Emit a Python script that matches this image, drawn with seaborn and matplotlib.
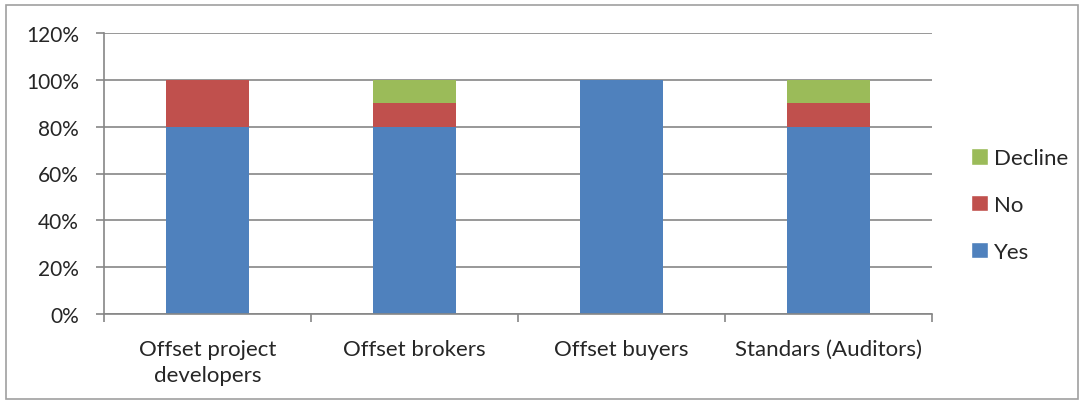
import matplotlib
matplotlib.use("Agg")
import matplotlib.pyplot as plt
import seaborn as sns
import pandas as pd
import numpy as np
from matplotlib.patches import Rectangle, Patch
from matplotlib.ticker import FuncFormatter, FixedLocator

categories = ["Offset project\ndevelopers", "Offset brokers", "Offset buyers", "Standars (Auditors)"]
yes = [80, 80, 100, 80]
no = [20, 10, 0, 10]
decline = [0, 10, 0, 10]
series_names = ["Yes", "No", "Decline"]
colors = {"Yes": "#4F81BD", "No": "#C0504D", "Decline": "#9BBB59"}
yticks = [0, 20, 40, 60, 80, 100, 120]

sns.set_style("white")
plt.rcParams["font.family"] = ["Lato", "DejaVu Sans"]

df = pd.DataFrame({"cat": categories, "Yes": yes, "No": no, "Decline": decline})
df["cum_no"] = df["Yes"] + df["No"]
df["cum_decline"] = df["cum_no"] + df["Decline"]

fig = plt.figure(figsize=(10.84, 4.06), dpi=100)
ax = fig.add_axes([104/1084, 1-315/406, (932-104)/1084, (315-34)/406])
ax.set_axisbelow(True)

for col, name in [("cum_decline", "Decline"), ("cum_no", "No"), ("Yes", "Yes")]:
    sns.barplot(data=df, x="cat", y=col, color=colors[name], width=0.4,
                saturation=1, ax=ax, linewidth=0, errorbar=None)

ax.set_ylim(0, 120)
ax.set_xlim(-0.5, 3.5)
ax.yaxis.set_major_locator(FixedLocator(yticks))
ax.yaxis.set_major_formatter(FuncFormatter(lambda v, p: f"{int(v)}%"))
ax.grid(axis="y", color="#868686", linewidth=1.2)
ax.grid(axis="x", visible=False)
for s in ["top", "right"]:
    ax.spines[s].set_visible(False)
for s in ["left", "bottom"]:
    ax.spines[s].set_color("#868686")
    ax.spines[s].set_linewidth(1.2)
ax.set_xlabel("")
ax.set_ylabel("")
ax.tick_params(axis="y", length=6, color="#868686", width=1.2, labelsize=15, pad=12, left=True)
ax.tick_params(axis="x", length=0, labelsize=16, pad=18)
ax.set_xticks(range(4))
ax.set_xticklabels(categories, linespacing=1.4)
ax.set_xticks([-0.5, 0.5, 1.5, 2.5, 3.5], minor=True)
ax.tick_params(axis="x", which="minor", length=6, color="#868686", width=1.2, bottom=True)

handles = [Patch(facecolor=colors[n], label=n) for n in ["Decline", "No", "Yes"]]
fig.legend(handles=handles, loc="center left", bbox_to_anchor=(951/1084, 1-206/406),
           frameon=False, fontsize=16, handlelength=0.75, handleheight=0.75,
           handletextpad=0.3, labelspacing=1.2)

fig.patches.append(Rectangle((6/1084, 6/406), 1072/1084, 394/406, transform=fig.transFigure,
                             fill=False, edgecolor="#A0A0A0", linewidth=1.2))

fig.savefig("out.png", dpi=100)
